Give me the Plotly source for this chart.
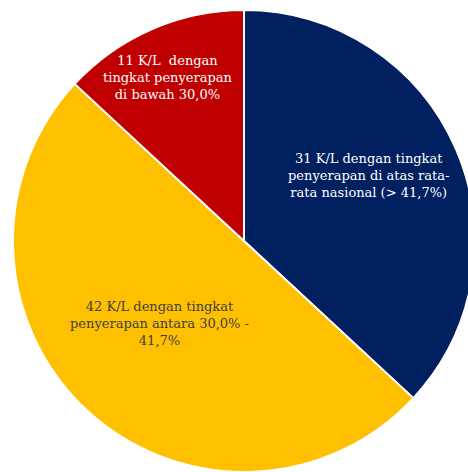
import math
import plotly.graph_objects as go

# Jumlah K/L per kelompok tingkat penyerapan anggaran
categories = [
    "Di atas rata-rata nasional",
    "Antara 30,0% - 41,7%",
    "Di bawah 30,0%",
]
counts = [31, 42, 11]
labels = [
    "31 K/L dengan tingkat<br>penyerapan di atas rata-<br>rata nasional (> 41,7%)",
    "42 K/L dengan tingkat<br>penyerapan antara 30,0% -<br>41,7%",
    "11 K/L\u00a0 dengan<br>tingkat penyerapan<br>di bawah 30,0%",
]
colors = ["#002060", "#FFC000", "#C00000"]
text_colors = ["#FFFFFF", "#404040", "#FFFFFF"]

# label placement: radial fraction of the radius and angular nudge (degrees)
label_radius = [0.608, 0.511, 0.779]
label_nudge = [-4.4, 3.1, -1.4]

W, H = 488, 472
radius = 231
cx, cy = W / 2, 241  # pixels from left / top

fig = go.Figure(
    go.Pie(
        labels=categories,
        values=counts,
        textinfo="none",
        marker=dict(colors=colors, line=dict(color="white", width=2)),
        sort=False,
        direction="clockwise",
        rotation=0,
        hoverinfo="label+value",
        domain=dict(x=[0, 1], y=[0, 2 * radius / H]),
    )
)

# labels at each slice's mid-angle (clockwise from 12 o'clock)
total = sum(counts)
start = 0.0
for val, txt, col, frac, nudge in zip(counts, labels, text_colors, label_radius, label_nudge):
    sweep = 360.0 * val / total
    ang = math.radians(start + sweep / 2 + nudge)
    start += sweep
    px = cx + frac * radius * math.sin(ang)
    py = cy - frac * radius * math.cos(ang)
    fig.add_annotation(
        x=px / W,
        y=1 - py / H,
        xref="paper",
        yref="paper",
        text=txt,
        showarrow=False,
        align="center",
        xanchor="center",
        yanchor="middle",
        font=dict(family="DejaVu Serif", size=13, color=col),
    )

fig.update_layout(
    width=W,
    height=H,
    margin=dict(l=0, r=0, t=0, b=0),
    showlegend=False,
    paper_bgcolor="white",
)

fig.write_html(
    "out.html",
    post_script="document.body.style.overflow='hidden';document.body.style.margin='0';",
)
